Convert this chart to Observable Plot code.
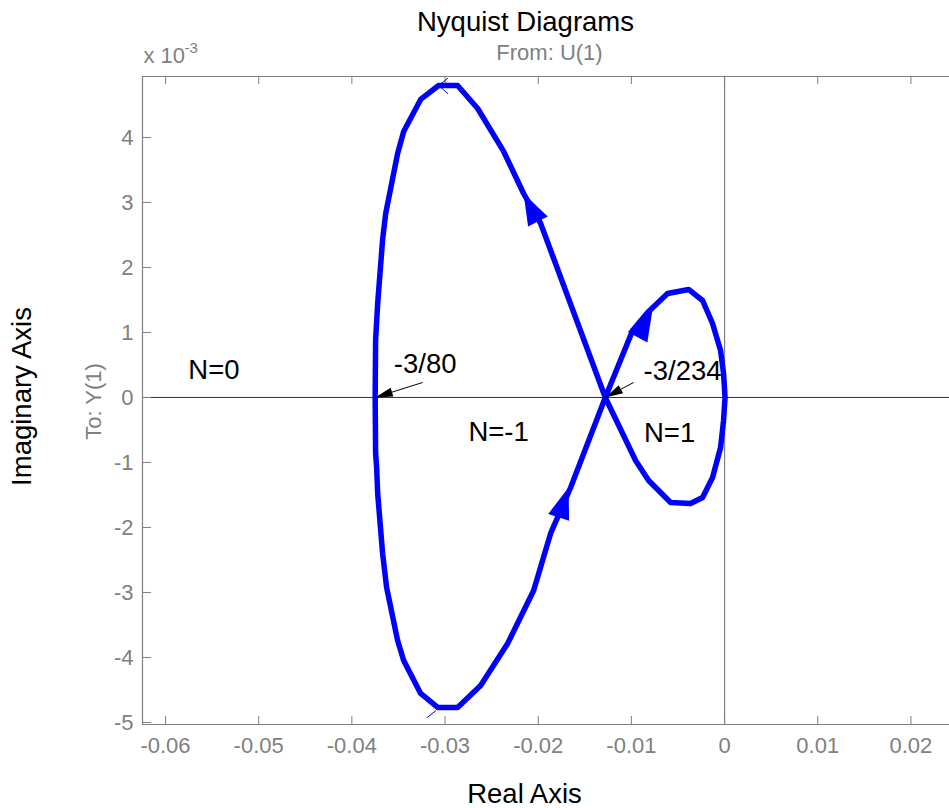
<!DOCTYPE html>
<html><head><meta charset="utf-8">
<script src="https://cdn.jsdelivr.net/npm/d3@7"></script>
<script src="https://cdn.jsdelivr.net/npm/@observablehq/plot@0.6"></script>
<style>html,body{margin:0;padding:0;background:#fff;overflow:hidden}</style>
</head><body><div id="chart"></div>
<script>
// Nyquist curve (real part, imaginary part in units of 1e-3)
const re = [-0.0128,-0.01974,-0.02157,-0.02371,-0.02650,-0.02865,-0.03069,-0.03262,-0.03444,-0.03509,-0.03637,-0.03670,-0.03723,-0.03745,-0.03750,
  -0.03745,-0.03734,-0.03723,-0.03670,-0.03627,-0.03509,-0.03444,-0.03262,-0.03079,-0.02865,-0.02618,-0.02328,-0.02049,-0.01867,-0.01652,-0.0128,
  -0.00987,-0.00826,-0.00612,-0.00386,-0.00236,-0.00129,-0.00043,-0.00011,0.00005,-0.00011,-0.00043,-0.00129,-0.00236,-0.00365,-0.00579,-0.00815,-0.00955,-0.0128];
const im = [0,2.677,3.138,3.785,4.446,4.800,4.800,4.585,4.092,3.754,2.831,2.431,1.446,0.892,0,
  -0.862,-1.077,-1.477,-2.400,-2.923,-3.738,-4.046,-4.554,-4.769,-4.769,-4.431,-3.785,-2.969,-2.092,-1.385,0,
  1.031,1.308,1.600,1.662,1.492,1.138,0.723,0.369,0,-0.354,-0.769,-1.231,-1.538,-1.631,-1.615,-1.277,-0.969,0];

// direction arrowheads on the curve (base -> tip)
const arrowBaseRe = [-0.02012,-0.01781,-0.00923];
const arrowBaseIm = [2.731,-1.846,0.954];
const arrowTipRe = [-0.02157,-0.01674,-0.00773];
const arrowTipIm = [3.138,-1.385,1.354];

// small thin end markers
const topMarkRe = [-0.02972,-0.03069,-0.02972];
const topMarkIm = [4.908,4.800,4.677];
const botMarkRe = [-0.03191,-0.03101];
const botMarkIm = [-4.923,-4.820];

// annotations
const labelText = ["N=0","-3/80","N=-1","-3/234","N=1"];
const labelRe = [-0.0548,-0.03213,-0.02425,-0.00451,-0.0059];
const labelIm = [0.415,0.508,-0.538,0.40,-0.554];

// annotation pointers (start -> tip)
const pointerStartRe = [-0.0324,-0.00976];
const pointerStartIm = [0.231,0.231];
const pointerTipRe = [-0.0375,-0.0128];
const pointerTipIm = [0,0];

const xTicks = [-0.06,-0.05,-0.04,-0.03,-0.02,-0.01,0,0.01,0.02];
const yTicks = [-5,-4,-3,-2,-1,0,1,2,3,4];

// layout
const W = 949, H = 808, mL = 142, mR = 0, mT = 76, mB = 84;
const xDom = [-0.06247, 0.02414], yDom = [-5.031, 4.938];
const kx = (W - mL - mR) / (xDom[1] - xDom[0]);
const ky = (H - mT - mB) / (yDom[1] - yDom[0]);
const angle = (x1, y1, x2, y2) => Math.atan2((x2 - x1) * kx, (y2 - y1) * ky) * 180 / Math.PI;

const curve = re.map((x, i) => ({x, y: im[i]}));
const heads = arrowTipRe.map((x, i) => ({x, y: arrowTipIm[i], r: angle(arrowBaseRe[i], arrowBaseIm[i], x, arrowTipIm[i])}));
const pointers = pointerTipRe.map((x, i) => ({x1: pointerStartRe[i], y1: pointerStartIm[i], x2: x, y2: pointerTipIm[i],
  r: angle(pointerStartRe[i], pointerStartIm[i], x, pointerTipIm[i])}));
const labels = labelText.map((t, i) => ({t, x: labelRe[i], y: labelIm[i]}));
const topMark = topMarkRe.map((x, i) => ({x, y: topMarkIm[i]}));
const botMark = botMarkRe.map((x, i) => ({x, y: botMarkIm[i]}));

const headSymbol = (lf, wf) => ({draw(ctx, size) {
  const r = Math.sqrt(size / Math.PI);
  const L = lf * r, w = wf * r / 2;
  ctx.moveTo(0, 0); ctx.lineTo(-w, L); ctx.lineTo(w, L); ctx.closePath();
}});

const grey = "#808080", blue = "#0000ff";
const fw = W - mL - mR, fh = H - mT - mB;

const chart = Plot.plot({
  width: W, height: H,
  marginLeft: mL, marginRight: mR, marginTop: mT, marginBottom: mB,
  style: {fontFamily: "'Liberation Sans', Arial, Helvetica, sans-serif", background: "#fff", overflow: "visible"},
  x: {domain: xDom},
  y: {domain: yDom},
  marks: [
    Plot.ruleX([0], {stroke: grey, strokeWidth: 1.2}),
    Plot.ruleY([0], {stroke: "#333", strokeWidth: 1}),
    Plot.ruleX([xDom[0]], {stroke: grey, strokeWidth: 1.2}),
    Plot.ruleY([yDom[0], yDom[1]], {stroke: grey, strokeWidth: 1.2}),
    Plot.tickX(xTicks, {x: d => d, insetTop: fh - 8, stroke: grey}),
    Plot.tickX(xTicks, {x: d => d, insetBottom: fh - 8, stroke: grey}),
    Plot.tickY(yTicks, {y: d => d, insetRight: fw - 9, stroke: grey}),
    Plot.axisX({ticks: xTicks, tickSize: 0, tickPadding: 13, tickFormat: d => String(d), fontSize: 22, color: grey, label: null}),
    Plot.axisY({ticks: yTicks, tickSize: 0, tickPadding: 9, tickFormat: d => String(d), fontSize: 22, color: grey, label: null}),
    Plot.line(curve, {x: "x", y: "y", stroke: blue, strokeWidth: 5.5, strokeLinejoin: "round", strokeLinecap: "round"}),
    Plot.line(topMark, {x: "x", y: "y", stroke: blue, strokeWidth: 1}),
    Plot.line(botMark, {x: "x", y: "y", stroke: blue, strokeWidth: 1}),
    Plot.dot(heads, {x: "x", y: "y", rotate: "r", r: 10.5, symbol: headSymbol(3, 2.1), fill: blue, stroke: "none"}),
    Plot.link(pointers, {x1: "x1", y1: "y1", x2: "x2", y2: "y2", stroke: "#000", strokeWidth: 1}),
    Plot.dot(pointers, {x: "x2", y: "y2", rotate: "r", r: 4.2, symbol: headSymbol(4.2, 2.2), fill: "#000", stroke: "none"}),
    Plot.text(labels, {x: "x", y: "y", text: "t", fontSize: 27.5, fill: "#000", textAnchor: "middle", lineAnchor: "middle"}),
    // titles
    Plot.text(["Nyquist Diagrams"], {text: d => d, frameAnchor: "top-left", dx: 383, dy: -54, fontSize: 27.5, fill: "#000", textAnchor: "middle", lineAnchor: "middle"}),
    Plot.text(["From: U(1)"], {text: d => d, frameAnchor: "top-left", dx: 407, dy: -24, fontSize: 22, fill: grey, textAnchor: "middle", lineAnchor: "middle"}),
    Plot.text(["x 10"], {text: d => d, frameAnchor: "top-left", dx: 1, dy: -21, fontSize: 22, fill: grey, textAnchor: "start", lineAnchor: "middle"}),
    Plot.text(["-3"], {text: d => d, frameAnchor: "top-left", dx: 42, dy: -28, fontSize: 15, fill: grey, textAnchor: "start", lineAnchor: "middle"}),
    Plot.text(["Imaginary Axis"], {text: d => d, frameAnchor: "top-left", dx: -120, dy: 320, rotate: -90, fontSize: 27.5, fill: "#000", textAnchor: "middle", lineAnchor: "middle"}),
    Plot.text(["To: Y(1)"], {text: d => d, frameAnchor: "top-left", dx: -49, dy: 325, rotate: -90, fontSize: 22, fill: grey, textAnchor: "middle", lineAnchor: "middle"}),
    Plot.text(["Real Axis"], {text: d => d, frameAnchor: "bottom-left", dx: 382, dy: 70, fontSize: 27.5, fill: "#000", textAnchor: "middle", lineAnchor: "middle"})
  ]
});
document.getElementById("chart").appendChild(chart);
</script></body></html>
